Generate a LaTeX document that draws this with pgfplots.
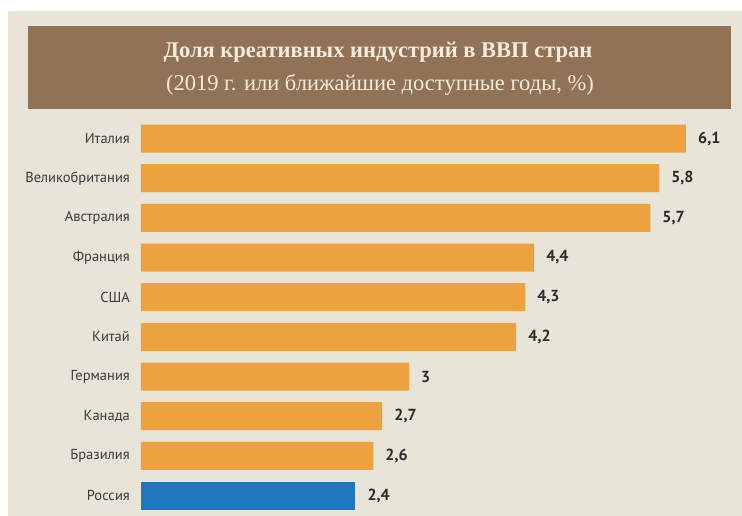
\documentclass[border=0pt]{standalone}
\usepackage{pgfplots}
\pgfplotsset{compat=1.18}
\usepackage{pgfplotstable}
\usepackage{fontspec}
\setmainfont{PT Sans}
\newfontfamily\titlefont{Liberation Serif}
\definecolor{bgbeige}{HTML}{E8E4D8}
\definecolor{titlebrown}{HTML}{927257}
\definecolor{titletext}{HTML}{F4ECDC}
\definecolor{barorange}{HTML}{EDA13F}
\definecolor{barblue}{HTML}{1F76BF}
\definecolor{labelgray}{HTML}{3A3A3A}
\definecolor{valuegray}{HTML}{2A2A2A}

% share of GDP, %; id 0 = top bar
\pgfplotstableread{
id value
0 6.1
1 5.8
2 5.7
3 4.4
4 4.3
5 4.2
6 3.0
7 2.7
8 2.6
}\othershares
\pgfplotstableread{
id value
9 2.4
}\russiashare

\begin{document}
\begin{tikzpicture}
  \fill[white] (0pt,0pt) rectangle (742pt,516pt);
  \fill[bgbeige] (8pt,0pt) rectangle (742pt,505pt);
  \fill[titlebrown] (28pt,407pt) rectangle (731pt,490pt);
  \node[text=titletext, anchor=base, inner sep=0pt,
        font=\titlefont\bfseries\fontsize{22.5}{26}\selectfont] at (378pt,458pt)
        {Доля креативных индустрий в ВВП стран};
  \node[text=titletext, anchor=base, inner sep=0pt,
        font=\titlefont\fontsize{22.5}{26}\selectfont] at (380pt,425pt)
        {(2019 г. или ближайшие доступные годы, \%)};

  \begin{axis}[
    at={(141pt,397.3pt)}, anchor=north west,
    scale only axis, width=545pt, height=396.7pt,
    xbar, bar shift=0pt, bar width=28pt,
    xmin=0, xmax=6.1, ymin=-0.5, ymax=9.5, y dir=reverse,
    axis line style={draw=none}, tick style={draw=none},
    major tick length=0pt,
    xtick=\empty,
    ytick={0,...,9},
    yticklabels={Италия,Великобритания,Австралия,Франция,США,Китай,Германия,Канада,Бразилия,Россия},
    yticklabel style={font=\fontsize{14.5}{16}\selectfont, text=labelgray,
                      inner sep=0pt, xshift=-11pt},
    clip=false,
    point meta=x,
    nodes near coords={\pgfmathprintnumber[use comma, fixed, precision=1, assume math mode=true]{\pgfplotspointmeta}},
    every node near coord/.append style={font=\bfseries\fontsize{16}{18}\selectfont,
                      text=valuegray, inner sep=0pt, anchor=west, xshift=12pt},
  ]
    \addplot[draw=none, fill=barorange] table[x=value, y=id] {\othershares};
    \addplot[draw=none, fill=barblue] table[x=value, y=id] {\russiashare};
  \end{axis}
  \pgfresetboundingbox
  \useasboundingbox (0pt,0pt) rectangle (742pt,516pt);
\end{tikzpicture}
\end{document}
